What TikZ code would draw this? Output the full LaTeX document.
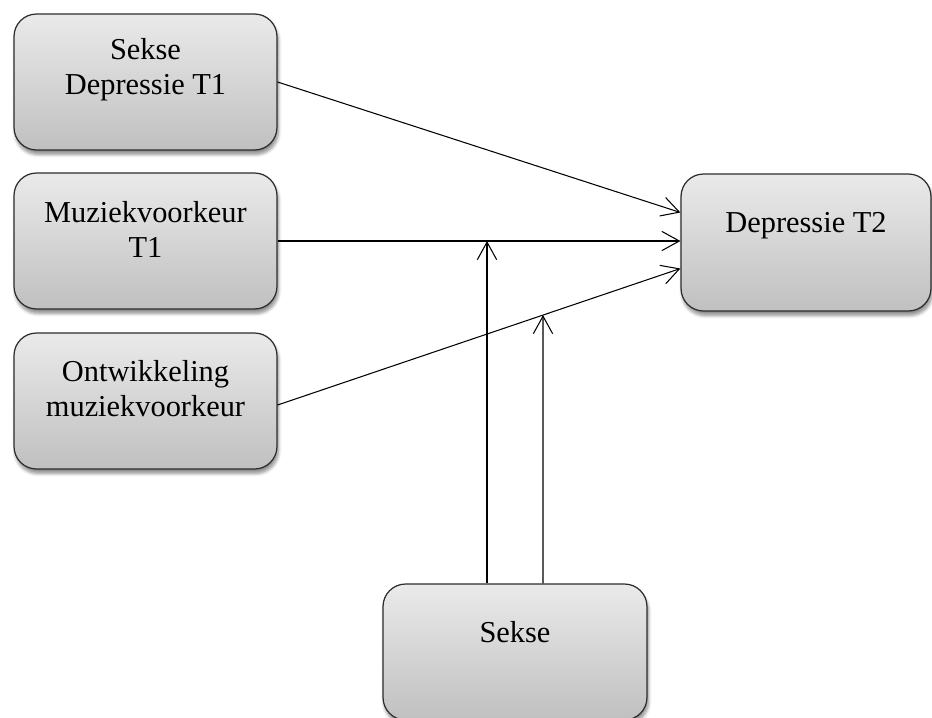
\documentclass[tikz,border=0pt]{standalone}
\usepackage{fontspec}
\setmainfont{Liberation Serif}
\usepackage{tikz}
\usetikzlibrary{shapes,arrows.meta,positioning,calc,intersections,shadows.blur}
\definecolor{BoxTop}{RGB}{234,234,234}
\definecolor{BoxBottom}{RGB}{192,192,192}
\definecolor{BoxEdge}{RGB}{45,45,45}

\begin{document}
\begin{tikzpicture}[x=0.02cm, y=-0.02cm,
    varbox/.style={draw=BoxEdge, line width=0.7pt, rounded corners=0.45cm,
      top color=BoxTop, bottom color=BoxBottom,
      minimum width=5.26cm, minimum height=2.72cm,
      blur shadow={shadow xshift=0.8pt, shadow yshift=-2.5pt, shadow blur steps=6, shadow opacity=45}},
    vartext/.style={align=center, inner sep=0pt, font=\fontsize{17.3}{19.9}\selectfont},
    arrowline/.style={->, line width=0.6pt},
    >={Straight Barb[length=10pt, width=11pt]}]
    \useasboundingbox (0,0) rectangle (932,717);

    % Predictors
    \node[varbox] (sekseT1) at (145.5,82) {};
    \node[varbox] (muziekT1) at (145.5,241) {};
    \node[varbox] (ontwikkeling) at (145.5,401) {};
    \node[vartext] (sekseT1txt) at ($(sekseT1)+(0,-12)$) {Sekse\\Depressie T1};
    \node[vartext] (muziekT1txt) at ($(muziekT1)+(0,-12)$) {Muziekvoorkeur\\T1};
    \node[vartext] (ontwikkelingtxt) at ($(ontwikkeling)+(0,-12)$) {Ontwikkeling\\muziekvoorkeur};

    % Outcome and moderator
    \node[varbox, minimum width=5.0cm, minimum height=2.74cm] (depressieT2) at (806,242.5) {};
    \node[varbox, minimum width=5.28cm] (sekse) at (515,652) {};
    \node[vartext] (depressieT2txt) at ($(depressieT2)+(0,-17)$) {Depressie T2};
    \node[vartext] (seksetxt) at ($(sekse)+(0,-20)$) {Sekse};

    % Paths to Depressie T2
    \coordinate (inA) at ($(depressieT2.west)+(0,-30)$);
    \coordinate (inC) at ($(depressieT2.west)+(0,26)$);
    \draw[arrowline] (sekseT1.east) -- (inA);
    \draw[arrowline] (muziekT1.east) -- (muziekT1.east -| depressieT2.west);
    \draw[arrowline, name path=lineC] ($(ontwikkeling.east)+(0,4)$) -- (inC);

    % Moderation by Sekse
    \coordinate (modA) at ($(sekse.north)+(-28,0)$);
    \coordinate (modB) at ($(sekse.north)+(28,0)$);
    \draw[arrowline] (modA) -- (modA |- muziekT1.east);
    \path[name path=vertB] (modB) -- ++(0,-400);
    \path[name intersections={of=lineC and vertB, by=hitB}];
    \draw[arrowline] (modB) -- (hitB);
\end{tikzpicture}
\end{document}
